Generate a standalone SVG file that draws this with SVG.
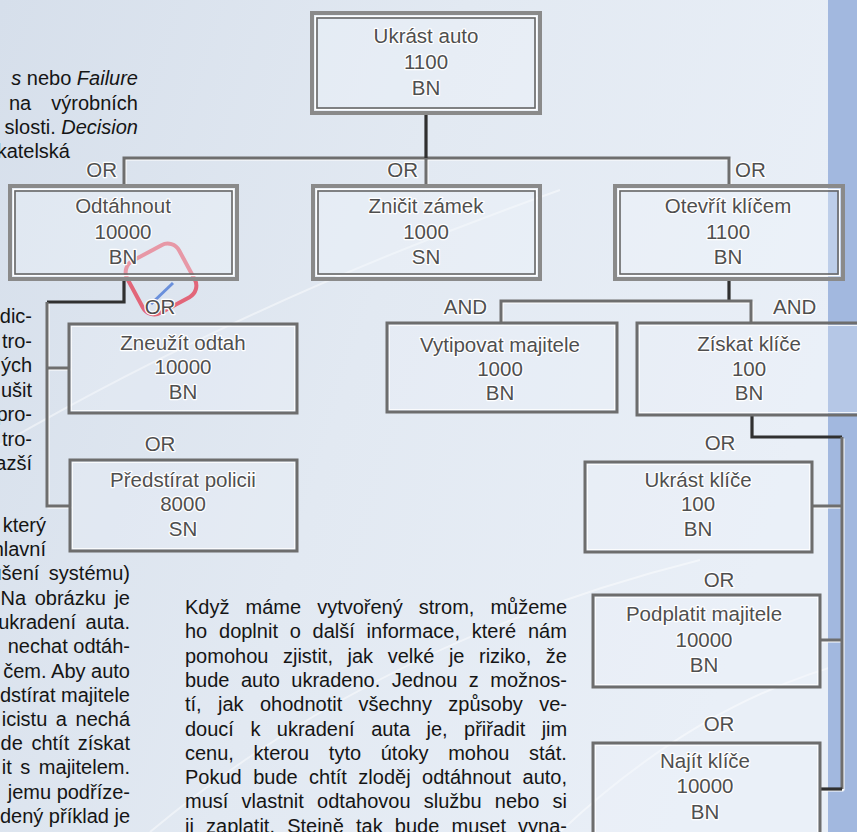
<svg xmlns="http://www.w3.org/2000/svg" width="857" height="832" viewBox="0 0 857 832">
<defs>
<linearGradient id="bg" x1="0" y1="0" x2="1" y2="0.3">
<stop offset="0" stop-color="#d6dfeb"/>
<stop offset="0.5" stop-color="#e2e9f2"/>
<stop offset="1" stop-color="#e9eff7"/>
</linearGradient>
<style>
.pg{font-family:"Liberation Sans",Arial,sans-serif;font-size:20px;fill:#151515}
.it{font-style:italic}
.bt{font-family:"Liberation Sans",Arial,sans-serif;font-size:20.5px;fill:#4f4f4f;stroke:#ffffff;stroke-width:2.4px;paint-order:stroke;stroke-linejoin:round;text-anchor:middle}
.lb{font-family:"Liberation Sans",Arial,sans-serif;font-size:20.5px;fill:#4f4f4f;stroke:#ffffff;stroke-width:2.4px;paint-order:stroke;stroke-linejoin:round}
.fo{fill:rgba(240,245,251,0.35);stroke:#8a8a8a;stroke-width:4}
.fw{fill:none;stroke:#ffffff;stroke-width:1.3}
.fi{fill:none;stroke:#666;stroke-width:1.6}
.so{fill:rgba(240,245,251,0.25);stroke:#6d6d6d;stroke-width:3}
.sw{fill:none;stroke:#ffffff;stroke-width:1;opacity:0.8}
.ch{fill:none;stroke:#ffffff;stroke-width:2}
.cg{fill:none;stroke:#6e6e6e;stroke-width:3}
.cd{fill:none;stroke:#303030;stroke-width:3.2}
.arc{fill:none;stroke:#ffffff;stroke-width:2;opacity:0.45}
</style>
</defs>
<rect x="0" y="0" width="857" height="832" fill="url(#bg)"/>
<path class="arc" d="M0,445 Q250,300 560,190"/>
<path class="arc" d="M150,832 Q380,640 700,560"/>
<path class="arc" d="M560,832 Q700,700 857,660"/>
<rect x="828" y="0" width="29" height="832" fill="#a2b8df"/>

<g id="page-text">
<text class="pg" x="138" y="85" text-anchor="end"><tspan class="it">s</tspan> nebo <tspan class="it">Failure</tspan></text>
<text class="pg" x="138" y="110" text-anchor="end" word-spacing="14.6">na výrobních</text>
<text class="pg" x="138" y="134" text-anchor="end">slosti. <tspan class="it">Decision</tspan></text>
<text class="pg" x="70" y="158" text-anchor="end">katelská</text>
<text class="pg" x="32" y="323" text-anchor="end">dic-</text>
<text class="pg" x="32" y="347.5" text-anchor="end">tro-</text>
<text class="pg" x="32" y="372" text-anchor="end">ých</text>
<text class="pg" x="32" y="396.5" text-anchor="end">ušit</text>
<text class="pg" x="32" y="421" text-anchor="end">pro-</text>
<text class="pg" x="32" y="445.5" text-anchor="end">tro-</text>
<text class="pg" x="32" y="470" text-anchor="end">azší</text>
<text class="pg" x="46" y="532" text-anchor="end">který</text>
<text class="pg" x="46" y="556" text-anchor="end">hlavní</text>
<text class="pg" x="130" y="580" text-anchor="end" word-spacing="4">ušení systému)</text>
<text class="pg" x="130" y="605" text-anchor="end" word-spacing="3">Na obrázku je</text>
<text class="pg" x="130" y="629.2" text-anchor="end" word-spacing="4">ukradení auta.</text>
<text class="pg" x="130" y="653.4" text-anchor="end">nechat odtáh-</text>
<text class="pg" x="130" y="677.6" text-anchor="end">čem. Aby auto</text>
<text class="pg" x="130" y="701.8" text-anchor="end">dstírat majitele</text>
<text class="pg" x="130" y="726" text-anchor="end" word-spacing="3">icistu a nechá</text>
<text class="pg" x="130" y="750.2" text-anchor="end" word-spacing="3">de chtít získat</text>
<text class="pg" x="130" y="774.4" text-anchor="end" word-spacing="3">it s majitelem.</text>
<text class="pg" x="130" y="798.6" text-anchor="end">jemu podříze-</text>
<text class="pg" x="130" y="822.8" text-anchor="end">dený příklad je</text>
<text class="pg" x="185" y="614" word-spacing="10.5">Když máme vytvořený strom, můžeme</text>
<text class="pg" x="185" y="638.3" word-spacing="6.2">ho doplnit o další informace, které nám</text>
<text class="pg" x="185" y="662.6" word-spacing="9">pomohou zjistit, jak velké je riziko, že</text>
<text class="pg" x="185" y="686.9" word-spacing="5.9">bude auto ukradeno. Jednou z možnos-</text>
<text class="pg" x="185" y="711.2" word-spacing="10.8">tí, jak ohodnotit všechny způsoby ve-</text>
<text class="pg" x="185" y="735.5" word-spacing="10.9">doucí k ukradení auta je, přiřadit jim</text>
<text class="pg" x="185" y="759.8" word-spacing="14.1">cenu, kterou tyto útoky mohou stát.</text>
<text class="pg" x="185" y="784.1" word-spacing="5.9">Pokud bude chtít zloděj odtáhnout auto,</text>
<text class="pg" x="185" y="808.4" word-spacing="7.7">musí vlastnit odtahovou službu nebo si</text>
<text class="pg" x="185" y="832.7" word-spacing="6.6">ji zaplatit. Stejně tak bude muset vyna-</text>
</g>

<g id="annotation">
<rect x="-29.5" y="-29.5" width="59" height="59" rx="13" transform="translate(161,279) rotate(-28.3)" fill="none" stroke="#e26679" stroke-width="4"/>
<path d="M151,304 L173,283" stroke="#6a90dc" stroke-width="3" fill="none"/>
</g>

<g id="connectors">
<g transform="translate(1.5,1.5)">
<path class="ch" d="M124,186 V158 H729 V186 M426,158 V186"/>
<path class="ch" d="M501,323 V301 H751 V323"/>
<path class="ch" d="M47,302 V506 H70 M47,368 H69"/>
<path class="ch" d="M842,437 V789 M812,506 H842 M820,640 H842 M820,789 H842"/>
</g>
<path class="cg" d="M124,186 V158 H729 V186 M426,158 V186"/>
<path class="cd" d="M426,113 V158"/>
<path class="cd" d="M729,280 V301"/>
<path class="cg" d="M501,323 V301 H751 V323"/>
<path class="cd" d="M124,280 V302 H47"/>
<path class="cg" d="M47,302 V506 H70 M47,368 H69"/>
<path class="cd" d="M752,415 V437 H842"/>
<path class="cg" d="M842,437 V789 M812,506 H842 M820,640 H842"/>
<path class="cd" d="M820,789 H842"/>
</g>

<g id="labels">
<text class="lb" x="117" y="177" text-anchor="end">OR</text>
<text class="lb" x="418" y="177" text-anchor="end">OR</text>
<text class="lb" x="735" y="177">OR</text>
<text class="lb" x="487" y="314" text-anchor="end">AND</text>
<text class="lb" x="773" y="314">AND</text>
<text class="lb" x="160" y="314" text-anchor="middle">OR</text>
<text class="lb" x="160" y="451" text-anchor="middle">OR</text>
<text class="lb" x="720" y="450" text-anchor="middle">OR</text>
<text class="lb" x="719" y="587" text-anchor="middle">OR</text>
<text class="lb" x="719" y="731" text-anchor="middle">OR</text>
</g>

<g id="n-ukrast-auto">
<rect class="fo" x="312" y="13" width="228" height="100"/>
<rect class="fw" x="315.5" y="16.5" width="221" height="93"/>
<rect class="fi" x="317" y="18" width="218" height="90"/>
<text class="bt" x="426" y="43">Ukrást auto</text>
<text class="bt" x="426" y="69">1100</text>
<text class="bt" x="426" y="95">BN</text>
</g>

<g id="n-odtahnout">
<rect class="fo" x="10" y="186" width="227" height="93"/>
<rect class="fw" x="13.5" y="189.5" width="220" height="86"/>
<rect class="fi" x="15" y="191" width="217" height="83"/>
<text class="bt" x="123" y="213">Odtáhnout</text>
<text class="bt" x="123" y="239">10000</text>
<text class="bt" x="123" y="264">BN</text>
</g>

<g id="n-znicit-zamek">
<rect class="fo" x="313" y="186" width="227" height="93"/>
<rect class="fw" x="316.5" y="189.5" width="220" height="86"/>
<rect class="fi" x="318" y="191" width="217" height="83"/>
<text class="bt" x="426" y="213">Zničit zámek</text>
<text class="bt" x="426" y="239">1000</text>
<text class="bt" x="426" y="264">SN</text>
</g>

<g id="n-otevrit-klicem">
<rect class="fo" x="615" y="186" width="228" height="93"/>
<rect class="fw" x="618.5" y="189.5" width="221" height="86"/>
<rect class="fi" x="620" y="191" width="218" height="83"/>
<text class="bt" x="728" y="213">Otevřít klíčem</text>
<text class="bt" x="728" y="239">1100</text>
<text class="bt" x="728" y="264">BN</text>
</g>

<g id="n-vytipovat-majitele">
<rect class="so" x="387" y="323" width="230" height="89"/>
<rect class="sw" x="389.5" y="325.5" width="225" height="84"/>
<text class="bt" x="500" y="352">Vytipovat majitele</text>
<text class="bt" x="500" y="376">1000</text>
<text class="bt" x="500" y="400">BN</text>
</g>

<g id="n-ziskat-klice">
<rect class="so" x="637" y="323" width="240" height="92"/>
<rect class="sw" x="639.5" y="325.5" width="235" height="87"/>
<text class="bt" x="749" y="351">Získat klíče</text>
<text class="bt" x="749" y="376">100</text>
<text class="bt" x="749" y="400">BN</text>
</g>

<g id="n-zneuzit-odtah">
<rect class="so" x="69" y="324" width="228" height="89"/>
<rect class="sw" x="71.5" y="326.5" width="223" height="84"/>
<text class="bt" x="183" y="350">Zneužít odtah</text>
<text class="bt" x="183" y="374">10000</text>
<text class="bt" x="183" y="399">BN</text>
</g>

<g id="n-predstirat-policii">
<rect class="so" x="70" y="460" width="227" height="91"/>
<rect class="sw" x="72.5" y="462.5" width="222" height="86"/>
<text class="bt" x="183" y="487">Předstírat policii</text>
<text class="bt" x="183" y="511">8000</text>
<text class="bt" x="183" y="536">SN</text>
</g>

<g id="n-ukrast-klice">
<rect class="so" x="585" y="462" width="227" height="90"/>
<rect class="sw" x="587.5" y="464.5" width="222" height="85"/>
<text class="bt" x="698" y="487">Ukrást klíče</text>
<text class="bt" x="698" y="511">100</text>
<text class="bt" x="698" y="536">BN</text>
</g>

<g id="n-podplatit-majitele">
<rect class="so" x="593" y="595" width="227" height="92"/>
<rect class="sw" x="595.5" y="597.5" width="222" height="87"/>
<text class="bt" x="704" y="621">Podplatit majitele</text>
<text class="bt" x="704" y="647">10000</text>
<text class="bt" x="704" y="672">BN</text>
</g>

<g id="n-najit-klice">
<rect class="so" x="593" y="743" width="227" height="100"/>
<rect class="sw" x="595.5" y="745.5" width="222" height="95"/>
<text class="bt" x="705" y="768">Najít klíče</text>
<text class="bt" x="705" y="793">10000</text>
<text class="bt" x="705" y="819">BN</text>
</g>
</svg>
